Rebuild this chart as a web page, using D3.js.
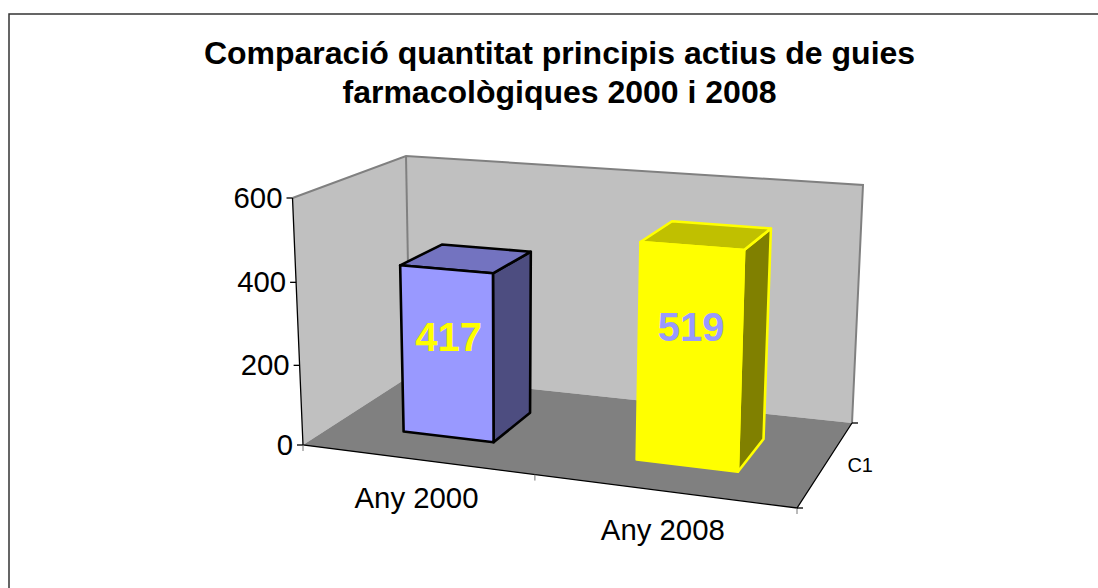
<!DOCTYPE html>
<html><head><meta charset="utf-8">
<script src="https://cdn.jsdelivr.net/npm/d3@7/dist/d3.min.js"></script>
<style>html,body{margin:0;padding:0;background:#fff}svg{display:block}text{font-family:"Liberation Sans",Arial,sans-serif;fill:#000}</style>
</head><body><svg id="c" width="1098" height="588"></svg>
<script>
const titleLines = ["Comparació quantitat principis actius de guies", "farmacològiques 2000 i 2008"];
const categories = ["Any 2000", "Any 2008"];
const values = [417, 519];
const valueTicks = [0, 200, 400, 600];
const seriesName = "C1";
const barFill = ["#9999FF", "#FFFF00"];
const barTop = ["#7373C0", "#C0C000"];
const barSide = ["#4D4D80", "#808000"];
const barStroke = ["#000000", "#FFFF00"];
const labelFill = ["#FFFF00", "#9999FF"];
const labelHeight = [0.52, 0.575];

const svg = d3.select("#c");
// perspective of the plot box: unit square to quad
function quad(A,B,C,D){
  const dx1=B[0]-C[0],dx2=D[0]-C[0],sx=A[0]-B[0]+C[0]-D[0];
  const dy1=B[1]-C[1],dy2=D[1]-C[1],sy=A[1]-B[1]+C[1]-D[1];
  const den=dx1*dy2-dx2*dy1;
  const g=(sx*dy2-dx2*sy)/den,h=(dx1*sy-sx*dy1)/den;
  const a=B[0]-A[0]+g*B[0],b=D[0]-A[0]+h*D[0],c=A[0];
  const d=B[1]-A[1]+g*B[1],e=D[1]-A[1]+h*D[1],f=A[1];
  return (u,w)=>{const k=g*u+h*w+1;return [(a*u+b*w+c)/k,(d*u+e*w+f)/k];};
}
const floor = quad([303,445],[797,508],[852,423],[410,376]);
const ceil = quad([292.5,198],[805,236],[863,185],[406,156]);
const xBand = d3.scaleBand().domain(categories).range([0.005,1.005]).paddingInner(0.6).paddingOuter(0.3);
const depth = d3.scaleLinear().domain([0,1]).range([0.288,0.687]);
const yFrac = d3.scalePow().exponent(1.03).domain([0,600]).range([0,1]);
function P(u,w,v){const p=floor(u,w),q=ceil(u,w),t=yFrac(v);return [p[0]+(q[0]-p[0])*t,p[1]+(q[1]-p[1])*t];}
const line = d3.line();
const poly = pts => line(pts)+"Z";

// frame: only its top and left edges fall inside the picture
svg.append("path").attr("d",line([[1098,14],[9,14],[9,588]])).attr("fill","none").attr("stroke","#333").attr("stroke-width",1.5);

// walls + floor
svg.append("path").attr("d",poly([P(0,0,0),P(0,1,0),P(0,1,600),P(0,0,600)])).attr("fill","#C0C0C0");
svg.append("path").attr("d",poly([P(0,1,0),P(1,1,0),P(1,1,600),P(0,1,600)])).attr("fill","#C0C0C0");
svg.append("path").attr("d",poly([P(0,0,0),P(1,0,0),P(1,1,0),P(0,1,0)])).attr("fill","#808080");
svg.append("path").attr("d",line([P(0,0,600),P(0,1,600),P(1,1,600),P(1,1,0)])).attr("fill","none").attr("stroke","#808080").attr("stroke-width",2);
svg.append("path").attr("d",line([P(0,1,600),P(0,1,0)])).attr("fill","none").attr("stroke","#808080").attr("stroke-width",2);

// axes
const axis = svg.append("g").attr("stroke","#000").attr("stroke-width",1.3).attr("fill","none");
axis.append("path").attr("d",line([P(0,0,600),P(0,0,0),P(1,0,0),P(1,1,0)]));
valueTicks.forEach(t=>{const p=P(0,0,t);axis.append("path").attr("d",line([[p[0]-6,p[1]],p]));
  svg.append("text").attr("x",p[0]-10).attr("y",p[1]+10).attr("text-anchor","end").attr("font-size",29.33).text(t);});
[0,0.5,1].forEach(u=>{const p=P(u,0,0);axis.append("path").attr("d",line([p,[p[0],p[1]+6]])).attr("stroke","#777").attr("stroke-width",1);});
[0,1].forEach(w=>{const p=P(1,w,0);axis.append("path").attr("d",line([p,[p[0]+6,p[1]]]));});
categories.forEach(c=>{const p=P(xBand(c)+xBand.bandwidth()/2-0.005,0,0);
  svg.append("text").attr("x",p[0]+1).attr("y",p[1]+49).attr("text-anchor","middle").attr("font-size",29.33).text(c);});
{const p=P(1,0.5,0);svg.append("text").attr("x",p[0]+21).attr("y",p[1]+9).attr("font-size",20).text(seriesName);}

// bars
categories.forEach((c,i)=>{
  const u0=xBand(c),u1=u0+xBand.bandwidth(),w0=depth(0),w1=depth(1),v=values[i];
  const g=svg.append("g").attr("stroke",barStroke[i]).attr("stroke-width",2.6).attr("stroke-linejoin","round");
  g.append("path").attr("d",poly([P(u1,w0,0),P(u1,w1,0),P(u1,w1,v),P(u1,w0,v)])).attr("fill",barSide[i]);
  g.append("path").attr("d",poly([P(u0,w0,v),P(u1,w0,v),P(u1,w1,v),P(u0,w1,v)])).attr("fill",barTop[i]);
  g.append("path").attr("d",poly([P(u0,w0,0),P(u1,w0,0),P(u1,w0,v),P(u0,w0,v)])).attr("fill",barFill[i]);
  const p=P((u0+u1)/2,w0,v*labelHeight[i]);
  svg.append("text").attr("x",p[0]+1.5).attr("y",p[1]).attr("text-anchor","middle").attr("font-size",40).attr("font-weight","bold").style("fill",labelFill[i]).text(v);
});

// title
titleLines.forEach((t,i)=>svg.append("text").attr("x",559.5).attr("y",64+i*38.5).attr("text-anchor","middle").attr("font-size",32).attr("font-weight","bold").text(t));
</script></body></html>
